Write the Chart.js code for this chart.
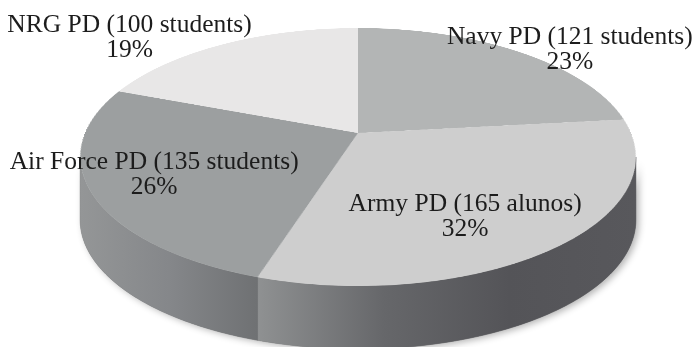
<!DOCTYPE html>
<html>
<head>
<meta charset="utf-8">
<script src="https://cdn.jsdelivr.net/npm/chart.js@4.4.0/dist/chart.umd.min.js"></script>
<style>
  html, body { margin: 0; padding: 0; background: #fff; }
  canvas { display: block; }
</style>
</head>
<body>
<canvas id="pie3d" width="695" height="347"></canvas>
<script>
// slices, clockwise from 12 o'clock
const groups = ['Navy PD (121 students)', 'Army PD (165 alunos)', 'Air Force PD (135 students)', 'NRG PD (100 students)'];
const students = [121, 165, 135, 100];
const shares = ['23%', '32%', '26%', '19%'];

const topColors = ['#b3b5b5', '#cecece', '#9c9fa0', '#e8e7e7'];
// wall shading, left -> right
const wallColors = [
  ['#8a8c8d', '#6e7072'],
  ['#8f9192', '#66676a', '#545458', '#58585c'],
  ['#949697', '#85878a', '#6f7173'],
  ['#b0b0b0', '#a0a0a0']
];
// caption spot along each slice's middle direction (x, y reach in disc units)
const labelReach = [[1.33, 1.03], [0.55, 0.77], [0.78, 0.73], [1.72, 1.08]];

// disc seen in perspective: centre at (cx, cy), far side shrinks, near side grows
const persp = { cx: 358, cy: 133, sx: 273, a: 99.8, c: -0.186, depth: 63 };

function project(u, v) {
  const w = 1 + persp.c * v;
  return [persp.cx + persp.sx * u / w, (persp.a * v + persp.cy) / w];
}
function unprojectY(py) {
  return (py - persp.cy) / (persp.a - persp.c * py);
}

function wallPath(ctx, lo, hi) {
  const steps = Math.max(2, Math.ceil((hi - lo) * 80));
  ctx.beginPath();
  for (let k = 0; k <= steps; k++) {
    const t = lo + (hi - lo) * k / steps;
    const [x, y] = project(Math.cos(t), Math.sin(t));
    k ? ctx.lineTo(x, y) : ctx.moveTo(x, y);
  }
  for (let k = steps; k >= 0; k--) {
    const t = lo + (hi - lo) * k / steps;
    const [x, y] = project(Math.cos(t), Math.sin(t));
    ctx.lineTo(x, y + persp.depth);
  }
  ctx.closePath();
}

function drawWalls(ctx, arcs) {
  // outline turns from top face to wall where the rim is vertical
  const t0 = Math.asin(-persp.c), t1 = Math.PI - t0;

  ctx.save();
  ctx.shadowColor = 'rgba(0,0,0,0.3)';
  ctx.shadowBlur = 7;
  ctx.shadowOffsetX = 3;
  ctx.shadowOffsetY = 2;
  ctx.fillStyle = '#666';
  wallPath(ctx, t0, t1);
  ctx.fill();
  ctx.restore();

  arcs.forEach((arc, i) => {
    [0, 2 * Math.PI].forEach(k => {
      const lo = Math.max(arc.startAngle, k + t0);
      const hi = Math.min(arc.endAngle, k + t1);
      if (hi <= lo) return;
      const xa = project(Math.cos(lo), Math.sin(lo))[0];
      const xb = project(Math.cos(hi), Math.sin(hi))[0];
      const g = ctx.createLinearGradient(Math.min(xa, xb), 0, Math.max(xa, xb), 0);
      const stops = wallColors[i];
      stops.forEach((col, j) => g.addColorStop(j / (stops.length - 1), col));
      ctx.fillStyle = g;
      ctx.strokeStyle = g;
      ctx.lineWidth = 0.6;
      wallPath(ctx, lo, hi);
      ctx.fill();
      ctx.stroke();
    });
  });
}

const tiltPlugin = {
  id: 'tilt',
  beforeDatasetsDraw(chart) {
    const ctx = chart.ctx;
    const arcs = chart.getDatasetMeta(0).data;
    const R = arcs[0].outerRadius, ox = arcs[0].x, oy = arcs[0].y;

    drawWalls(ctx, arcs);

    // flat pie rendered once, then laid down row by row in perspective
    const N = 320;
    const off = document.createElement('canvas');
    off.width = off.height = 2 * N;
    const octx = off.getContext('2d');
    octx.setTransform(N / R, 0, 0, N / R, N - ox * N / R, N - oy * N / R);
    arcs.forEach(a => a.draw(octx));

    const yTop = project(0, -1)[1], yBot = project(0, 1)[1];
    for (let row = Math.floor(yTop); row < Math.ceil(yBot); row++) {
      const y0 = Math.max(row, yTop), y1 = Math.min(row + 1, yBot);
      const v0 = unprojectY(y0), v1 = unprojectY(y1);
      if (v1 <= v0) continue;
      const half = persp.sx / (1 + persp.c * (v0 + v1) / 2);
      ctx.drawImage(off, 0, N + N * v0, 2 * N, N * (v1 - v0),
        persp.cx - half, y0, 2 * half, y1 - y0);
    }
    return false;
  },
  afterDraw(chart) {
    const ctx = chart.ctx;
    const arcs = chart.getDatasetMeta(0).data;
    ctx.save();
    ctx.fillStyle = '#1c1c1c';
    ctx.font = '25.5px "Liberation Serif", serif';
    ctx.textAlign = 'center';
    ctx.textBaseline = 'middle';
    arcs.forEach((arc, i) => {
      const mid = (arc.startAngle + arc.endAngle) / 2;
      const [x, y] = project(Math.cos(mid) * labelReach[i][0], Math.sin(mid) * labelReach[i][1]);
      ctx.fillText(chart.data.labels[i], x, y - 12.5);
      ctx.fillText(shares[i], x, y + 12.5);
    });
    ctx.restore();
  }
};

new Chart(document.getElementById('pie3d'), {
  type: 'pie',
  data: {
    labels: groups,
    datasets: [{
      data: students,
      backgroundColor: topColors,
      borderWidth: 0
    }]
  },
  options: {
    responsive: false,
    animation: false,
    events: [],
    plugins: {
      legend: { display: false },
      tooltip: { enabled: false }
    }
  },
  plugins: [tiltPlugin]
});
</script>
</body>
</html>
